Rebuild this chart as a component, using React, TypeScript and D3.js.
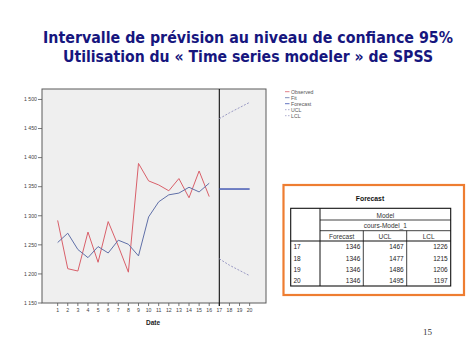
import React from "react";
import * as d3 from "d3";

const titleLines = [
  "Intervalle de prévision au niveau de confiance 95%",
  "Utilisation du « Time series modeler » de SPSS",
];

const dates = [1, 2, 3, 4, 5, 6, 7, 8, 9, 10, 11, 12, 13, 14, 15, 16];
const observed = [1292, 1209, 1205, 1272, 1220, 1290, 1248, 1203, 1390, 1360, 1353, 1343, 1364, 1331, 1377, 1333];
const fit = [1254, 1270, 1242, 1228, 1247, 1236, 1258, 1251, 1231, 1298, 1324, 1336, 1339, 1349, 1341, 1356];

const forecastDates = [17, 18, 19, 20];
const forecast = [1346, 1346, 1346, 1346];
const ucl = [1467, 1477, 1486, 1495];
const lcl = [1226, 1215, 1206, 1197];

const yTicks = [1150, 1200, 1250, 1300, 1350, 1400, 1450, 1500];
const xTicks = d3.range(1, 21);

const legendItems = ["Observed", "Fit", "Forecast", "UCL", "LCL"];
const tableHeaders = ["Forecast", "UCL", "LCL"];

const C_OBS = "#d9606a";
const C_FIT = "#6070a8";
const C_FC = "#3a4fb0";
const C_CL = "#9a9ac4";

export default function App() {
  const left = 42, right = 266, top = 89, bottom = 303;
  const x = d3.scaleLinear().domain([-0.55, 21.62]).range([left, right]);
  const y = d3.scaleLinear().domain([1150, 1518]).range([bottom, top]);
  const line = d3
    .line<[number, number]>()
    .x((d) => x(d[0]))
    .y((d) => y(d[1]));
  const pairs = (xs: number[], ys: number[]) => xs.map((v, i) => [v, ys[i]] as [number, number]);
  const fmt = (v: number) => {
    const s = String(v);
    return s.length > 3 ? s.slice(0, s.length - 3) + " " + s.slice(-3) : s;
  };

  const legendStyles = [
    { c: C_OBS, dash: undefined },
    { c: C_FIT, dash: undefined },
    { c: C_FC, dash: undefined },
    { c: C_CL, dash: "1.5,1.5" },
    { c: C_CL, dash: "1.5,1.5" },
  ];

  // table geometry
  const tL = 290.7, tR = 450.7, tT = 208.3, tB = 286;
  const c1 = 320, c2 = 363.3, c3 = 406.7;
  const r1 = 220, r2 = 230.7, r3 = 241;
  const rowH = (tB - r3) / 4;
  const colRights = [c2 - 3, c3 - 3, tR - 3];
  const colCenters = [(c1 + c2) / 2, (c2 + c3) / 2, (c3 + tR) / 2];
  const tableFont = "Liberation Sans, Arial, sans-serif";

  return (
    <svg
      width={474}
      height={355}
      style={{ position: "absolute", left: 0, top: 0, background: "#fff" }}
      fontFamily="Liberation Sans, Arial, sans-serif"
    >
      <rect x={0} y={0} width={474} height={355} fill="#fff" />
      {/* Title */}
      <text
        x={248}
        y={43}
        textAnchor="middle"
        fontFamily="DejaVu Sans, Verdana, sans-serif"
        fontWeight="bold"
        fontSize={15}
        fill="#16167e"
        textLength={410}
        lengthAdjust="spacingAndGlyphs"
      >
        {titleLines[0]}
      </text>
      <text
        x={248}
        y={62}
        textAnchor="middle"
        fontFamily="DejaVu Sans, Verdana, sans-serif"
        fontWeight="bold"
        fontSize={15}
        fill="#16167e"
        textLength={370}
        lengthAdjust="spacingAndGlyphs"
      >
        {titleLines[1]}
      </text>

      {/* Plot panel */}
      <rect x={left} y={top} width={right - left} height={bottom - top} fill="#efefef" stroke="#5a5a5a" strokeWidth={1} />

      {/* Y axis */}
      {yTicks.map((t) => (
        <g key={t}>
          <line x1={left - 4} x2={left} y1={y(t)} y2={y(t)} stroke="#555" strokeWidth={0.8} />
          <text x={left - 5} y={y(t) + 1.8} textAnchor="end" fontSize={5.2} fill="#444">
            {fmt(t)}
          </text>
        </g>
      ))}

      {/* X axis */}
      {xTicks.map((t) => (
        <g key={t}>
          <line x1={x(t)} x2={x(t)} y1={bottom} y2={bottom + 3} stroke="#555" strokeWidth={0.8} />
          <text x={x(t)} y={bottom + 8.5} textAnchor="middle" fontSize={5.2} fill="#444">
            {t}
          </text>
        </g>
      ))}
      <text x={153} y={324.5} textAnchor="middle" fontSize={6.5} fontWeight="bold" fill="#222">
        Date
      </text>

      {/* Forecast start line */}
      <line x1={x(17)} x2={x(17)} y1={top} y2={bottom + 3} stroke="#111" strokeWidth={1.1} />

      {/* Series */}
      <path d={line(pairs(dates, observed)) || ""} fill="none" stroke={C_OBS} strokeWidth={1} />
      <path d={line(pairs(dates, fit)) || ""} fill="none" stroke={C_FIT} strokeWidth={1} />
      <path d={line(pairs(forecastDates, forecast)) || ""} fill="none" stroke={C_FC} strokeWidth={1.4} />
      <path d={line(pairs(forecastDates, ucl)) || ""} fill="none" stroke={C_CL} strokeWidth={1} strokeDasharray="2,1.5" />
      <path d={line(pairs(forecastDates, lcl)) || ""} fill="none" stroke={C_CL} strokeWidth={1} strokeDasharray="2,1.5" />

      {/* Legend */}
      {legendItems.map((name, i) => (
        <g key={name}>
          <line
            x1={285}
            x2={289.5}
            y1={91.7 + i * 6}
            y2={91.7 + i * 6}
            stroke={legendStyles[i].c}
            strokeWidth={0.8}
            strokeDasharray={legendStyles[i].dash}
          />
          <text x={291} y={93.5 + i * 6} fontSize={5.2} fill="#555">
            {name}
          </text>
        </g>
      ))}

      {/* Table */}
      <rect x={283.5} y={185} width={180.5} height={110} fill="#fff" stroke="#ee7d31" strokeWidth={2.2} />
      <text x={370} y={201} textAnchor="middle" fontSize={6.8} fontWeight="bold" fill="#111" fontFamily={tableFont}>
        Forecast
      </text>
      <rect x={tL} y={tT} width={tR - tL} height={tB - tT} fill="none" stroke="#111" strokeWidth={1.1} />
      <line x1={c1} x2={c1} y1={tT} y2={tB} stroke="#111" strokeWidth={1} />
      <line x1={c1} x2={tR} y1={r1} y2={r1} stroke="#111" strokeWidth={0.8} />
      <line x1={c1} x2={tR} y1={r2} y2={r2} stroke="#111" strokeWidth={0.8} />
      <line x1={tL} x2={tR} y1={r3} y2={r3} stroke="#111" strokeWidth={1.1} />
      <line x1={c2} x2={c2} y1={r2} y2={tB} stroke="#111" strokeWidth={0.8} />
      <line x1={c3} x2={c3} y1={r2} y2={tB} stroke="#111" strokeWidth={0.8} />
      <text x={(c1 + tR) / 2} y={217.5} textAnchor="middle" fontSize={6.5} fill="#333" fontFamily={tableFont}>
        Model
      </text>
      <text x={(c1 + tR) / 2} y={228.2} textAnchor="middle" fontSize={6.5} fill="#333" fontFamily={tableFont}>
        cours-Model_1
      </text>
      {tableHeaders.map((h, i) => (
        <text key={h} x={colCenters[i]} y={238.6} textAnchor="middle" fontSize={6.5} fill="#333" fontFamily={tableFont}>
          {h}
        </text>
      ))}
      {forecastDates.map((d, i) => {
        const by = r3 + rowH * (i + 1) - 3;
        const vals = [forecast[i], ucl[i], lcl[i]];
        return (
          <g key={d}>
            <text x={293.5} y={by} fontSize={6.5} fill="#222" fontFamily={tableFont}>
              {d}
            </text>
            {vals.map((v, j) => (
              <text key={j} x={colRights[j]} y={by} textAnchor="end" fontSize={6.5} fill="#222" fontFamily={tableFont}>
                {v}
              </text>
            ))}
          </g>
        );
      })}

      {/* Page number */}
      <text x={423} y={335} fontSize={9} fill="#333" fontFamily="Liberation Serif, Times New Roman, serif">
        15
      </text>
    </svg>
  );
}
